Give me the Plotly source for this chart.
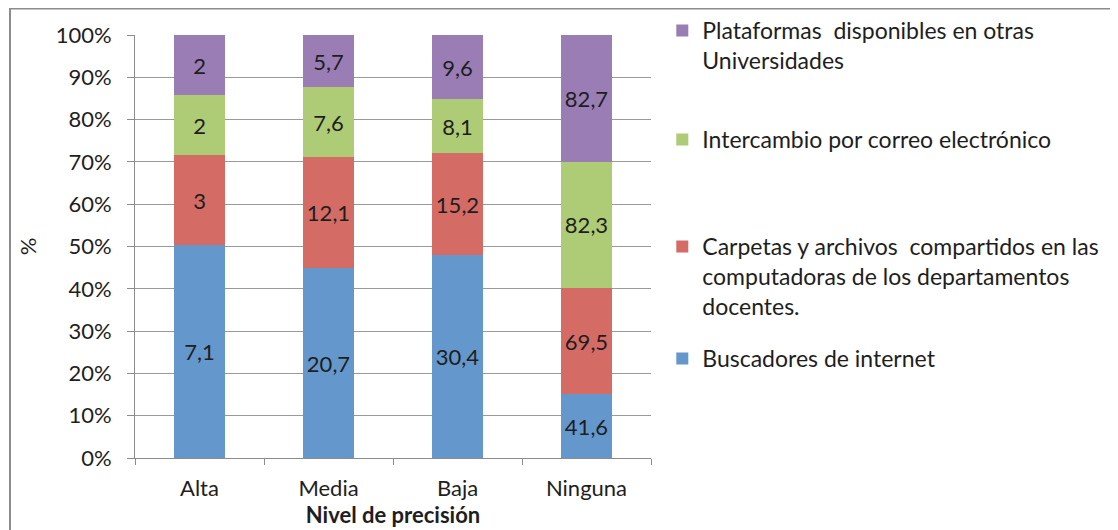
import plotly.graph_objects as go

categories = ["Alta", "Media", "Baja", "Ninguna"]
buscadores = [7.1, 20.7, 30.4, 41.6]
carpetas = [3, 12.1, 15.2, 69.5]
intercambio = [2, 7.6, 8.1, 82.3]
plataformas = [2, 5.7, 9.6, 82.7]

series = [
    ("Buscadores de internet", buscadores, "#6497CB", "legend4"),
    ("Carpetas y archivos  compartidos en las<br>computadoras de los departamentos<br>docentes.", carpetas, "#D56B65", "legend3"),
    ("Intercambio por correo electrónico", intercambio, "#AECB76", "legend2"),
    ("Plataformas  disponibles en otras<br>Universidades", plataformas, "#9A7DB5", "legend"),
]

FONT = "Lato, Calibri, sans-serif"
TXT = "#1e1e1e"

def fmt(v):
    return ("%g" % v).replace(".", ",")

fig = go.Figure()
for name, vals, color, lg in series:
    fig.add_trace(go.Bar(
        x=categories, y=vals, name=name, marker=dict(color=color, line=dict(width=0)),
        text=[fmt(v) for v in vals], textposition="inside", insidetextanchor="middle",
        textangle=0, textfont=dict(family=FONT, size=22, color=TXT),
        legend=lg,
    ))

leg_common = dict(font=dict(family=FONT, size=23, color=TXT), bgcolor="rgba(0,0,0,0)",
                  xanchor="left", yanchor="top", valign="top", x=1.0219)

L, T, PW, PH = 127, 27, 516, 423

fig.update_layout(
    barmode="stack", barnorm="percent", bargap=0.597,
    width=1118, height=530,
    margin=dict(l=L, r=1118 - L - PW, t=T, b=530 - T - PH, autoexpand=False),
    paper_bgcolor="white", plot_bgcolor="white",
    font=dict(family=FONT, size=22, color=TXT),
    showlegend=True,
    legend=dict(**leg_common, y=1.0615),
    legend2=dict(**leg_common, y=0.8038),
    legend3=dict(**leg_common, y=0.5508),
    legend4=dict(**leg_common, y=0.286),
    xaxis=dict(
        showline=True, linecolor="#8c8c8c", linewidth=1,
        ticks="outside", tickson="boundaries", ticklen=6, tickcolor="#8c8c8c",
        tickfont=dict(family=FONT, size=22, color=TXT), ticklabelstandoff=11,
        title=dict(text="<b>Nivel de precisión</b>", font=dict(family=FONT, size=22, color=TXT), standoff=7),
        automargin=False,
    ),
    yaxis=dict(
        range=[0, 100], dtick=10, ticksuffix="%",
        showgrid=True, gridcolor="#9a9a9a", gridwidth=1,
        showline=True, linecolor="#8c8c8c", linewidth=1,
        ticks="outside", ticklen=7, tickcolor="#8c8c8c",
        tickfont=dict(family=FONT, size=22, color=TXT), ticklabelstandoff=11,
        title=dict(text="%", font=dict(family=FONT, size=22, color=TXT), standoff=12),
        zeroline=False, automargin=False,
    ),
    shapes=[dict(type="rect", xref="paper", yref="paper",
                 x0=(2 - L) / PW, x1=3, y0=-1, y1=(T + PH - 0.5) / PH,
                 line=dict(color="#8c8c8c", width=2), fillcolor="rgba(0,0,0,0)", layer="below")],
)

fig.write_html("out.html")
